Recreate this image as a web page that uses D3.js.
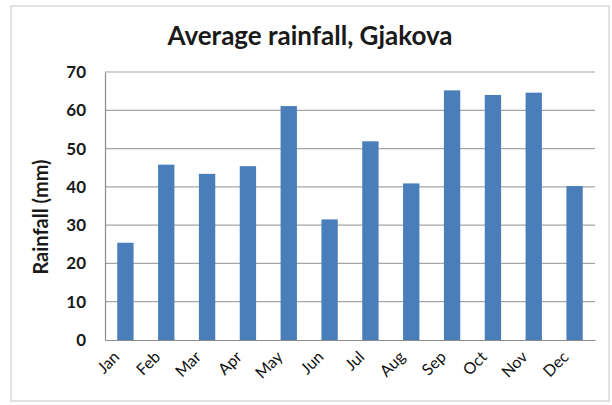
<!DOCTYPE html>
<html>
<head>
<meta charset="utf-8">
<script src="https://cdn.jsdelivr.net/npm/d3@7/dist/d3.min.js"></script>
<style>
  html, body { margin: 0; padding: 0; background: #ffffff; }
  svg { display: block; }
</style>
</head>
<body>
<script>
// Monthly average rainfall (mm) for Gjakova
const months = ["Jan", "Feb", "Mar", "Apr", "May", "Jun", "Jul", "Aug", "Sep", "Oct", "Nov", "Dec"];
const rainfall = [25.4, 45.8, 43.4, 45.4, 61.1, 31.5, 51.9, 40.9, 65.2, 64.0, 64.6, 40.2];
const yTicks = [0, 10, 20, 30, 40, 50, 60, 70];

const W = 612, H = 405;
const plot = { left: 105, right: 595, top: 72, bottom: 340 };
const font = "Lato, 'Open Sans', sans-serif";

const svg = d3.select("body").append("svg")
  .attr("width", W).attr("height", H);

// chart frame
svg.append("rect")
  .attr("x", 11).attr("y", 6)
  .attr("width", 598).attr("height", 395)
  .attr("fill", "#ffffff")
  .attr("stroke", "#d9d9d9")
  .attr("stroke-width", 1.5);

const x = d3.scaleBand()
  .domain(months)
  .range([plot.left, plot.right])
  .paddingInner(0.6)
  .paddingOuter(0.3);

const y = d3.scaleLinear()
  .domain([0, 70])
  .range([plot.bottom, plot.top]);

// horizontal gridlines
svg.append("g")
  .selectAll("line")
  .data(yTicks.filter(d => d > 0))
  .join("line")
  .attr("x1", plot.left).attr("x2", plot.right)
  .attr("y1", d => y(d)).attr("y2", d => y(d))
  .attr("stroke", "#a6a6a6")
  .attr("stroke-width", 1.2);

// bars
svg.append("g")
  .selectAll("rect")
  .data(months.map((m, i) => ({ month: m, value: rainfall[i] })))
  .join("rect")
  .attr("x", d => x(d.month))
  .attr("width", x.bandwidth())
  .attr("y", d => y(d.value))
  .attr("height", d => y(0) - y(d.value))
  .attr("fill", "#4a7ebb");

// y axis
const yAxis = svg.append("g")
  .attr("transform", `translate(${plot.left},0)`)
  .call(d3.axisLeft(y).tickValues(yTicks).tickSize(0).tickPadding(19));
yAxis.select(".domain").attr("stroke", "#8c8c8c").attr("stroke-width", 1.2);
yAxis.selectAll("text")
  .attr("font-family", font)
  .attr("font-size", 17)
  .attr("font-weight", "bold")
  .attr("fill", "#1a1a1a");

// x axis
const xAxis = svg.append("g")
  .attr("transform", `translate(0,${plot.bottom})`)
  .call(d3.axisBottom(x).tickSize(0).tickPadding(0));
xAxis.select(".domain").attr("stroke", "#8c8c8c").attr("stroke-width", 1.2);
xAxis.selectAll("text")
  .attr("font-family", font)
  .attr("font-size", 16)
  .attr("fill", "#111111")
  .attr("text-anchor", "end")
  .attr("dy", "0.35em")
  .attr("transform", "translate(-9,14) rotate(-45)");

// y axis title
svg.append("text")
  .attr("transform", `translate(48,217) rotate(-90)`)
  .attr("text-anchor", "middle")
  .attr("font-family", font)
  .attr("font-size", 20)
  .attr("font-weight", "bold")
  .attr("fill", "#1a1a1a")
  .text("Rainfall (mm)");

// chart title
svg.append("text")
  .attr("x", 310).attr("y", 45)
  .attr("text-anchor", "middle")
  .attr("font-family", font)
  .attr("font-size", 26)
  .attr("font-weight", "bold")
  .attr("fill", "#1a1a1a")
  .text("Average rainfall, Gjakova");
</script>
</body>
</html>
